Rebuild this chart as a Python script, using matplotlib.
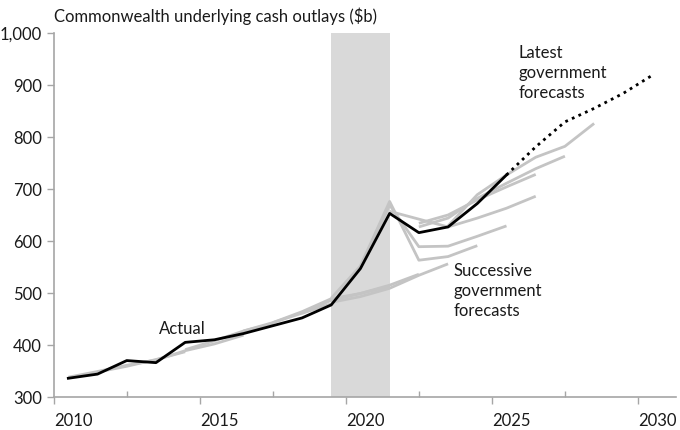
import matplotlib
matplotlib.use("Agg")
import matplotlib.pyplot as plt
from matplotlib.ticker import FuncFormatter, MultipleLocator

plt.rcParams['font.family'] = ['Lato', 'DejaVu Sans']

# financial years plotted at mid-year
actual_years = [2010.5, 2011.5, 2012.5, 2013.5, 2014.5, 2015.5, 2016.5, 2017.5,
                2018.5, 2019.5, 2020.5, 2021.5, 2022.5, 2023.5, 2024.5, 2025.5]
actual_vals = [337, 345, 371, 367, 406, 411, 423, 438, 453, 478, 548, 654, 617, 628, 673, 728]

latest_years = [2025.5, 2026.5, 2027.5, 2028.5, 2029.5, 2030.5]
latest_vals = [728, 782, 830, 856, 885, 920]

# successive budget forecasts (year lists, value lists)
forecast_years = [
    [2010.5, 2011.5, 2012.5, 2013.5],
    [2011.5, 2012.5, 2013.5, 2014.5],
    [2013.5, 2014.5, 2015.5, 2016.5],
    [2014.5, 2015.5, 2016.5, 2017.5],
    [2016.5, 2017.5, 2018.5, 2019.5],
    [2017.5, 2018.5, 2019.5, 2020.5, 2021.5],
    [2018.5, 2019.5, 2020.5, 2021.5, 2022.5],
    [2019.5, 2020.5, 2021.5, 2022.5, 2023.5],
    [2019.5, 2020.5, 2021.5, 2022.5, 2023.5, 2024.5],
    [2020.5, 2021.5, 2022.5, 2023.5, 2024.5, 2025.5],
    [2021.5, 2022.5, 2023.5, 2024.5, 2025.5, 2026.5],
    [2022.5, 2023.5, 2024.5, 2025.5, 2026.5],
    [2022.5, 2023.5, 2024.5, 2025.5, 2026.5, 2027.5],
    [2023.5, 2024.5, 2025.5, 2026.5, 2027.5, 2028.5],
]
forecast_vals = [
    [339, 350, 362, 372],
    [349, 360, 373, 388],
    [372, 390, 403, 420],
    [392, 409, 428, 442],
    [428, 444, 462, 480],
    [444, 465, 490, 500, 514],
    [462, 487, 500, 516, 537],
    [483, 494, 510, 535, 557],
    [491, 553, 677, 564, 571, 592],
    [552, 670, 590, 591, 610, 630],
    [658, 643, 628, 645, 664, 687],
    [635, 651, 680, 705, 729],
    [628, 645, 683, 712, 740, 764],
    [630, 690, 728, 762, 783, 827],
]

fig = plt.figure(figsize=(6.8, 4.3), dpi=100)
ax = fig.add_axes([0.079, 0.0756, 0.915, 0.8465])

ax.axvspan(2019.5, 2021.5, color='#d9d9d9', lw=0, zorder=0)

for yrs, vals in zip(forecast_years, forecast_vals):
    ax.plot(yrs, vals, color='#c4c4c4', lw=2, solid_capstyle='butt', zorder=2)

ax.plot(actual_years, actual_vals, color='black', lw=2, zorder=3)
ax.plot(latest_years, latest_vals, color='black', lw=2, ls=(0, (1, 1.6)), zorder=3)

ax.set_xlim(2010, 2031.3)
ax.set_ylim(300, 1000)
ax.yaxis.set_major_locator(MultipleLocator(100))
ax.yaxis.set_major_formatter(FuncFormatter(lambda v, p: f"{int(v):,}"))
ax.xaxis.set_major_locator(MultipleLocator(5))
ax.xaxis.set_minor_locator(MultipleLocator(2.5))

for side in ['top', 'right']:
    ax.spines[side].set_visible(False)
for side in ['left', 'bottom']:
    ax.spines[side].set_color('#a6a6a6')
    ax.spines[side].set_linewidth(1.2)

ax.tick_params(axis='both', which='major', colors='#a6a6a6', labelcolor='#1a1a1a',
               labelsize=12, length=5, width=1)
ax.tick_params(axis='x', which='major', direction='out', pad=6)
ax.tick_params(axis='x', which='minor', direction='in', length=4, width=1, colors='#a6a6a6')
for lab in ax.get_xticklabels():
    lab.set_horizontalalignment('left')

ax.text(0.0, 1.024, "Commonwealth underlying cash outlays ($b)", transform=ax.transAxes,
        fontsize=12, color='#1a1a1a', ha='left', va='bottom')
ax.text(2013.6, 416, "Actual", fontsize=12, color='#1a1a1a', ha='left', va='bottom')
ax.text(2023.7, 558, "Successive\ngovernment\nforecasts", fontsize=12, color='#1a1a1a',
        ha='left', va='top', linespacing=1.3)
ax.text(2025.9, 978, "Latest\ngovernment\nforecasts", fontsize=12, color='#1a1a1a',
        ha='left', va='top', linespacing=1.3)

fig.savefig("out.png", dpi=100)
